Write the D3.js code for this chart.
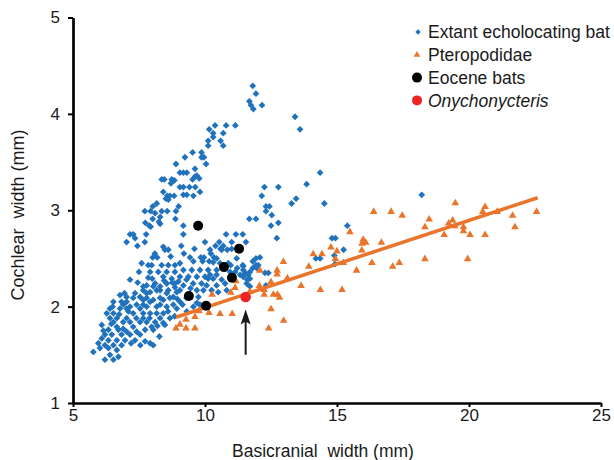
<!DOCTYPE html>
<html>
<head>
<meta charset="utf-8">
<script src="https://cdn.jsdelivr.net/npm/d3@7"></script>
<style>
  body { margin: 0; background: #fff; }
  svg text { font-family: "Liberation Sans", Arial, Helvetica, sans-serif; fill: #1a1a1a; white-space: pre; }
</style>
</head>
<body>
<svg id="ctner"></svg>
<script>
// values (mm)
const xTicks = [5, 10, 15, 20, 25];
const yTicks = [1, 2, 3, 4, 5];
const legendLabels = ["Extant echolocating bat", "Pteropodidae", "Eocene bats", "Onychonycteris"];

const extant = [
  // upper wing
  [11.81,4.29],[11.93,4.21],[11.68,4.13],[11.74,4.09],[11.83,4.05],[12.16,4.09],
  [13.41,3.97],[13.60,3.84],
  [10.38,3.88],[10.80,3.88],[11.15,3.88],[10.16,3.84],[10.31,3.80],[10.69,3.80],
  [10.31,3.76],[10.12,3.72],[10.59,3.72],[10.12,3.67],[10.69,3.67],
  [9.53,3.60],[9.87,3.60],[9.24,3.55],[9.87,3.55],[9.96,3.55],[8.90,3.48],[10.04,3.48],
  [9.62,3.43],[9.05,3.39],[9.18,3.39],[9.31,3.39],[9.69,3.36],[9.62,3.35],[9.78,3.33],[9.53,3.32],
  [8.36,3.32],[8.46,3.32],[8.74,3.32],[8.84,3.31],[8.71,3.28],
  [9.05,3.24],[9.18,3.24],[9.41,3.24],[9.63,3.24],
  [9.81,3.19],[9.56,3.15],[8.42,3.19],[8.57,3.15],[8.67,3.15],[8.83,3.15],[8.52,3.12],[8.61,3.11],
  [9.18,3.16],[9.31,3.16],[8.17,3.07],[9.00,3.04],[8.02,3.04],
  [7.72,2.99],[7.94,2.99],[8.11,2.97],[8.36,2.99],[8.57,2.99],[8.90,2.99],
  [8.30,2.93],[8.02,2.91],[8.88,2.91],[8.25,2.88],[8.30,2.86],[7.74,2.87],[7.89,2.84],[7.94,2.83],
  [9.18,2.84],[9.18,2.75],[7.16,2.75],[7.28,2.75],[7.35,2.71],[7.03,2.67],[7.44,2.63],[7.72,2.67],[7.77,2.75],
  [8.42,2.62],[8.48,2.59],[8.61,2.59],
  // sparse points to the right
  [12.25,3.24],[12.78,3.24],[12.15,3.15],[12.31,3.04],[12.44,3.04],[12.31,2.99],[12.53,2.95],
  [11.68,2.91],[11.93,2.91],[12.50,2.84],[12.72,2.71],[12.78,2.87],
  [14.36,3.39],[13.85,3.27],[13.28,3.07],[13.45,3.12],[14.52,3.07],[18.21,3.16],
  [15.39,2.84],[14.81,2.71],[14.94,2.71],[15.25,2.59],[14.20,2.50],[14.36,2.50],[14.92,2.44],[14.90,2.53],
  [12.08,2.51],[11.81,2.47],[11.93,2.43],[11.81,2.40],[11.96,2.40],[11.45,2.42],
  [12.27,2.35],[12.40,2.35],[11.52,2.35],[11.64,2.33],[11.70,2.29],[12.31,2.22],
  // middle cluster
  [10.00,2.67],[10.80,2.75],[11.17,2.75],[11.43,2.75],[10.54,2.67],[11.01,2.67],[11.55,2.67],
  [10.69,2.63],[10.84,2.59],[10.63,2.59],[10.19,2.59],[10.22,2.55],[10.59,2.60],[11.01,2.60],
  [8.02,2.51],[8.19,2.51],[9.43,2.51],[9.84,2.51],[9.96,2.51],[10.34,2.51],
  [9.91,2.47],[10.16,2.47],[10.31,2.46],[10.44,2.50],[11.20,2.50],[11.43,2.43],[11.93,2.50],[12.02,2.43],
  [10.97,2.43],[11.22,2.40],[11.45,2.38],[11.14,2.36],[11.33,2.33],[11.60,2.28],[11.70,2.21],
  [9.75,2.10],[9.69,2.04],[9.94,2.17],[10.06,2.22],[10.12,2.29],[10.19,2.33],[10.31,2.29],[10.44,2.33],
  [10.63,2.28],[10.76,2.24],[9.56,2.00],[9.81,2.02],
  [7.85,2.43],[7.98,2.43],[8.36,2.43],[8.61,2.43],[8.86,2.43],[9.05,2.45],[9.56,2.47],[10.57,2.45],[10.88,2.45],
  [7.16,2.28],
  [7.92,2.36],[8.23,2.36],[8.55,2.36],[8.86,2.36],[9.18,2.38],[9.50,2.38],[9.81,2.38],[10.12,2.38],[10.44,2.38],[10.95,2.36],[11.70,2.36],
  [8.42,2.31],[8.74,2.29],[9.05,2.31],[9.37,2.31],[9.69,2.31],[10.00,2.31],[11.45,2.31],
  [7.79,2.22],[8.11,2.24],[8.55,2.24],[8.86,2.24],[9.18,2.22],[9.55,2.24],[9.87,2.24],[10.44,2.22],[11.58,2.24],
  [6.78,2.12],[7.03,2.10],[7.66,2.17],[7.92,2.15],[8.30,2.17],[8.61,2.17],[8.93,2.15],[9.69,2.17],[10.25,2.17],[10.50,2.15],[10.82,2.17],
  [6.53,2.05],[6.84,2.05],[7.28,2.09],[7.66,2.07],[8.04,2.07],[8.42,2.07],[8.80,2.10],[9.05,2.05],
  [6.40,1.98],[6.78,1.98],[7.16,2.00],[7.79,2.00],[8.17,2.00],[8.55,2.00],[8.93,1.98],[9.31,1.95],
  [7.60,2.45],[7.50,2.36],[8.10,2.55],[8.70,2.52],[9.20,2.55],[9.60,2.60],[10.40,2.63],[9.10,2.63],
  [7.45,2.25],[7.85,2.30],[8.00,2.29],[8.45,2.27],[9.30,2.28],[9.45,2.19],[9.30,2.09],[8.95,2.08],
  // lower left
  [7.66,2.21],[8.04,2.21],[8.30,2.21],[8.76,2.25],[8.99,2.26],[8.17,2.17],[8.86,2.20],[9.05,2.17],
  [7.79,2.14],[8.55,2.14],[7.54,2.10],[7.79,2.09],[8.30,2.09],[8.67,2.09],[7.03,2.05],[7.92,2.05],
  [6.90,2.02],[7.41,2.02],[7.66,2.02],[8.30,2.02],[8.80,2.02],[7.03,1.98],[7.54,1.98],
  [6.28,1.93],[6.53,1.93],[7.28,1.93],[7.66,1.93],[7.92,1.93],[8.17,1.93],[8.42,1.93],
  [6.40,1.88],[6.66,1.88],[7.03,1.88],[7.66,1.88],[8.30,1.88],[8.67,1.88],
  [6.53,1.84],[6.90,1.84],[7.16,1.84],[7.54,1.84],[7.79,1.84],[8.11,1.84],[8.42,1.83],
  [6.09,1.81],[6.66,1.79],[7.28,1.79],[7.98,1.79],[8.48,1.81],
  [6.34,1.76],[6.72,1.76],[7.03,1.74],[7.41,1.74],[7.73,1.76],[8.04,1.76],
  [6.21,1.71],[6.47,1.71],[6.84,1.71],[7.16,1.71],[7.54,1.71],
  [6.09,1.67],[6.34,1.65],[6.66,1.65],[6.97,1.65],[7.35,1.65],[7.73,1.64],[7.92,1.62],[8.04,1.60],[8.27,1.69],
  [5.96,1.62],[6.21,1.60],[6.53,1.60],[6.84,1.60],[6.02,1.57],[6.34,1.57],[6.66,1.55],[5.77,1.53],
  [6.40,1.50],[6.72,1.48],[6.21,1.45],[6.53,1.45],
  [6.15,1.75],[6.45,1.82],[6.75,1.92],[7.10,1.95],[7.40,1.88],[7.90,1.88],[8.20,1.80],[6.90,1.77],
  [7.20,1.62],[7.55,1.60],[6.50,2.00],[6.95,2.14],[7.35,2.14],[8.60,1.95],[8.85,1.90],[9.15,2.02]
];

const pteropodidae = [
  [15.49,2.78],[16.39,2.99],[17.05,2.99],[17.47,2.95],[18.49,2.91],[18.33,2.83],[19.48,3.08],
  [20.61,3.04],[20.52,2.99],[21.07,2.99],[21.65,2.95],[22.56,2.99],[21.74,2.83],[19.23,2.87],
  [19.38,2.90],[19.46,2.84],[19.79,2.83],[19.79,2.79],[20.04,2.75],[19.06,2.75],[20.61,2.75],
  [18.33,2.50],[19.95,2.50],[16.68,2.67],[15.99,2.70],[16.09,2.67],[15.95,2.66],[15.94,2.59],
  [14.77,2.62],[15.00,2.58],[14.94,2.50],[15.24,2.46],[14.10,2.55],[14.43,2.55],[16.32,2.46],
  [17.36,2.46],[17.11,2.42],[15.74,2.38],[13.93,2.42],[12.97,2.47],[12.73,2.38],[12.73,2.34],
  [12.08,2.38],[13.12,2.30],[12.50,2.26],[13.64,2.22],[14.37,2.18],[15.19,2.18],[12.24,2.18],
  [12.24,2.13],[12.59,2.13],[12.74,2.13],[12.82,2.10],[12.50,1.98],[12.98,1.86],[12.41,1.78],
  [12.06,2.22],[11.14,2.20],[10.98,2.15],[11.17,2.27],[10.27,2.13],[11.03,1.93],[10.57,1.93],
  [10.15,1.94],[9.77,1.96],[9.62,1.90],[9.28,1.87],[9.05,1.82],[8.90,1.78],[9.28,1.78],
  [9.62,1.78],[11.70,2.16]
];

const eocene = [[9.74,2.84],[11.29,2.60],[10.72,2.41],[11.02,2.30],[9.39,2.11],[10.04,2.01]];
const onychonycteris = [[11.54,2.10]];

// fitted line for Pteropodidae
const fitX = [8.9, 22.6];
const fitY = [1.89, 3.13];

// arrow pointing at Onychonycteris
const arrowX = 11.54;
const arrowY = [1.50, 1.97];

const colors = { extant: "#2172bd", ptero: "#e9742a", eocene: "#000", ony: "#ee2326" };

main();

function main() {
  const width = 614;
  const height = 460;
  const svg = d3.select("#ctner").attr("width", width).attr("height", height);

  const x = d3.scaleLinear().domain([5, 25]).range([73, 601]);
  const y = d3.scaleLinear().domain([1, 5]).range([403, 17.5]);

  renderAxes(svg, x, y);
  renderMarks(svg, x, y);
  renderLegend(svg);
}

function renderAxes(svg, x, y) {
  const xGroup = svg.append("g").attr("transform", `translate(0, ${y(1)})`);
  xGroup.call(d3.axisBottom(x).tickValues(xTicks).tickFormat(d3.format("d"))
    .tickSize(4).tickPadding(2).tickSizeOuter(0));
  const yGroup = svg.append("g").attr("transform", `translate(${x(5)}, 0)`);
  yGroup.call(d3.axisLeft(y).tickValues(yTicks).tickFormat(d3.format("d"))
    .tickSize(5).tickPadding(8).tickSizeOuter(0));

  [xGroup, yGroup].forEach((g) => {
    g.select(".domain").attr("stroke", "#000").attr("stroke-width", 2.7);
    g.selectAll(".tick line").attr("stroke", "#000").attr("stroke-width", 2);
    g.selectAll(".tick text").style("font-size", "17px").attr("fill", "#1a1a1a");
  });

  svg.append("text")
    .attr("x", 323).attr("y", 457)
    .attr("text-anchor", "middle")
    .style("font-size", "17.5px")
    .text("Basicranial  width (mm)");
  svg.append("text")
    .attr("transform", "translate(24, 215) rotate(-90)")
    .attr("text-anchor", "middle")
    .style("font-size", "18px")
    .text("Cochlear  width (mm)");
}

function renderMarks(svg, x, y) {
  const diamond = d3.symbol(d3.symbolSquare, 23)();
  const tri = d3.symbol(d3.symbolTriangle, 25)();

  svg.append("g").selectAll("path").data(extant).join("path")
    .attr("d", diamond)
    .attr("fill", colors.extant)
    .attr("transform", (d) => `translate(${x(d[0])}, ${y(d[1])}) rotate(45)`);

  svg.append("g").selectAll("path").data(pteropodidae).join("path")
    .attr("d", tri)
    .attr("fill", colors.ptero)
    .attr("transform", (d) => `translate(${x(d[0])}, ${y(d[1]) + 0.5})`);

  svg.append("line")
    .attr("x1", x(fitX[0])).attr("y1", y(fitY[0]))
    .attr("x2", x(fitX[1])).attr("y2", y(fitY[1]))
    .attr("stroke", colors.ptero)
    .attr("stroke-width", 3.5);

  svg.append("g").selectAll("circle").data(eocene).join("circle")
    .attr("cx", (d) => x(d[0])).attr("cy", (d) => y(d[1]))
    .attr("r", 5)
    .attr("fill", colors.eocene);

  svg.append("g").selectAll("circle").data(onychonycteris).join("circle")
    .attr("cx", (d) => x(d[0])).attr("cy", (d) => y(d[1]))
    .attr("r", 5.3)
    .attr("fill", colors.ony);

  // arrow
  const ax = x(arrowX);
  const tip = y(arrowY[1]);
  svg.append("line")
    .attr("x1", ax).attr("y1", y(arrowY[0]))
    .attr("x2", ax).attr("y2", tip + 10)
    .attr("stroke", "#1a1a1a").attr("stroke-width", 2);
  svg.append("path")
    .attr("d", `M${ax},${tip} L${ax - 5},${tip + 15} L${ax},${tip + 12} L${ax + 5},${tip + 15} Z`)
    .attr("fill", "#1a1a1a");
}

function renderLegend(svg) {
  const mx = 417, tx = 428, y0 = 32, step = 22.8;
  const g = svg.append("g");
  legendLabels.forEach((label, i) => {
    const cy = y0 + i * step;
    if (i === 0) {
      g.append("path").attr("d", d3.symbol(d3.symbolSquare, 14)())
        .attr("transform", `translate(${mx + 1}, ${cy}) rotate(45)`).attr("fill", colors.extant);
    } else if (i === 1) {
      g.append("path").attr("d", d3.symbol(d3.symbolTriangle, 20)())
        .attr("transform", `translate(${mx}, ${cy})`).attr("fill", colors.ptero);
    } else {
      g.append("circle").attr("cx", mx).attr("cy", cy).attr("r", 5)
        .attr("fill", i === 2 ? colors.eocene : colors.ony);
    }
    g.append("text")
      .attr("x", tx).attr("y", cy + 6.2)
      .style("font-size", "17.5px")
      .style("font-style", i === 3 ? "italic" : "normal")
      .text(label);
  });
}
</script>
</body>
</html>
